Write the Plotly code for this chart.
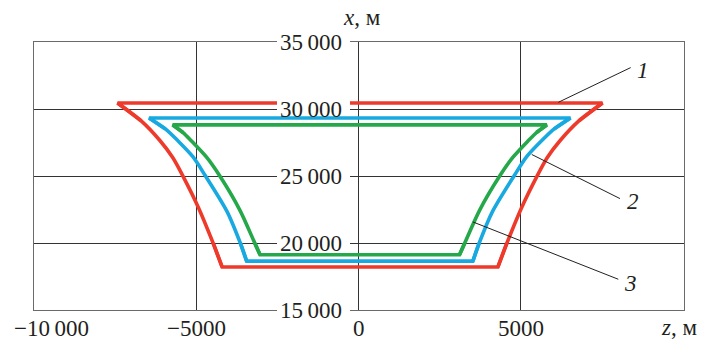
import plotly.graph_objects as go

# ---- data ----
z_tick_vals = [-10000, -5000, 0, 5000]
z_tick_text = ["\u221210\u2009000", "\u22125000", "0", "5000"]
x_tick_vals = [15000, 20000, 25000, 30000, 35000]
x_tick_text = ["15\u2009000", "20\u2009000", "25\u2009000", "30\u2009000", "35\u2009000"]

# Each curve: right flank (top corner -> bottom corner), left flank (top corner -> bottom corner)
# curve 1 (red)
red_x = [30445, 29110, 27648, 26365, 25052, 22656, 19985, 18205]
red_right_z = [7517, 6790, 6214, 5813, 5514, 5028, 4572, 4294]
red_left_z = [-7425, -6697, -6121, -5721, -5422, -4935, -4479, -4202]
# curve 2 (blue)
blue_x = [29332, 28516, 27648, 26439, 25052, 22359, 19985, 18650]
blue_right_z = [6531, 6029, 5650, 5182, 4806, 4131, 3718, 3524]
blue_left_z = [-6454, -5952, -5573, -5105, -4729, -4054, -3641, -3447]
# curve 3 (green)
green_x = [28813, 28242, 27648, 26387, 25052, 22456, 19985, 19118]
green_right_z = [5804, 5484, 5237, 4754, 4365, 3734, 3272, 3112]
green_left_z = [-5727, -5407, -5160, -4677, -4288, -3657, -3195, -3034]

curve_names = ["1", "2", "3"]
leader_start_z = [6158, 5339, 3522]
leader_start_x = [30500, 26605, 21575]
leader_end_z = [8387, 8057, 8005]
leader_end_x = [33091, 23314, 17295]
label_z = [8775, 8448, 8387]
label_x = [32846, 23061, 16997]

# ---- styling ----
FONT = "Liberation Serif"
TXT = "#231F20"
Z_RANGE = [-10000, 10030]
X_RANGE = [15000, 35000]
W, H = 702, 343
ML, MR, MT, MB = 34, 18, 42, 33
PW, PH = W - ML - MR, H - MT - MB

fig = go.Figure()
for xs, rz, lz, col in [
    (red_x, red_right_z, red_left_z, "#EE3A2B"),
    (blue_x, blue_right_z, blue_left_z, "#18A9E1"),
    (green_x, green_right_z, green_left_z, "#25A84A"),
]:
    # straight top and bottom edges (with a short stub along each flank so corners join sharply)
    fig.add_trace(go.Scatter(
        x=[rz[1], rz[0], lz[0], lz[1]], y=[xs[1], xs[0], xs[0], xs[1]],
        mode="lines", line=dict(color=col, width=3.6),
        hoverinfo="skip", showlegend=False))
    fig.add_trace(go.Scatter(
        x=[rz[-2], rz[-1], lz[-1], lz[-2]], y=[xs[-2], xs[-1], xs[-1], xs[-2]],
        mode="lines", line=dict(color=col, width=3.6),
        hoverinfo="skip", showlegend=False))
    # curved flanks
    for fz in (rz, lz):
        fig.add_trace(go.Scatter(
            x=fz, y=xs, mode="lines",
            line=dict(color=col, width=3.6, shape="spline", smoothing=0.8),
            hoverinfo="skip", showlegend=False))

for i in range(3):
    fig.add_trace(go.Scatter(x=[leader_start_z[i], leader_end_z[i]],
                             y=[leader_start_x[i], leader_end_x[i]],
                             mode="lines", line=dict(color=TXT, width=1),
                             hoverinfo="skip", showlegend=False))
    fig.add_annotation(x=label_z[i], y=label_x[i], text="<i>" + curve_names[i] + "</i>",
                       showarrow=False, xanchor="center", yanchor="middle",
                       font=dict(family=FONT, size=23, color=TXT))


def ydom(v):
    return (v - X_RANGE[0]) / (X_RANGE[1] - X_RANGE[0])


# white knock-out boxes behind y tick labels
for v, t in zip(x_tick_vals, x_tick_text):
    yd = ydom(v)
    fig.add_shape(type="rect", xref="x domain", yref="y domain",
                  x0=(277 - ML) / PW, x1=(350 - ML) / PW,
                  y0=yd - 6 / PH, y1=yd + 11 / PH,
                  fillcolor="white", line=dict(width=0), layer="above")
    fig.add_annotation(x=0, y=v, xref="x", yref="y", text=t, showarrow=False,
                       xanchor="right", yanchor="middle", xshift=-15,
                       font=dict(family=FONT, size=23, color=TXT))

for v, t in zip(z_tick_vals, z_tick_text):
    if v == Z_RANGE[0]:
        fig.add_annotation(x=v, y=-32.5 / PH, xref="x", yref="y domain", text=t,
                           showarrow=False, xanchor="left", yanchor="bottom",
                           xshift=-22, font=dict(family=FONT, size=23, color=TXT))
    else:
        fig.add_annotation(x=v, y=-32.5 / PH, xref="x", yref="y domain", text=t,
                           showarrow=False, xanchor="center", yanchor="bottom",
                           font=dict(family=FONT, size=23, color=TXT))

fig.add_annotation(x=0, y=1 + 24 / PH, xref="x", yref="y domain",
                   text="<i>x</i>, м", showarrow=False, xanchor="center",
                   yanchor="middle", xshift=3,
                   font=dict(family=FONT, size=23, color=TXT))
fig.add_annotation(x=1, y=-32 / PH, xref="x domain", yref="y domain",
                   text="<i>z</i>, м", showarrow=False, xanchor="right",
                   yanchor="bottom", xshift=15,
                   font=dict(family=FONT, size=23, color=TXT))

fig.update_xaxes(range=Z_RANGE, tickvals=z_tick_vals, showticklabels=False,
                 showgrid=True, gridcolor="#333333", gridwidth=1, zeroline=False,
                 showline=True, mirror=True, linecolor="#6a6a6a", linewidth=1.3,
                 ticks="", fixedrange=True)
fig.update_yaxes(range=X_RANGE, tickvals=x_tick_vals, showticklabels=False,
                 showgrid=True, gridcolor="#333333", gridwidth=1, zeroline=False,
                 showline=True, mirror=True, linecolor="#6a6a6a", linewidth=1.3,
                 ticks="", fixedrange=True)
fig.update_layout(width=W, height=H, margin=dict(l=ML, r=MR, t=MT, b=MB),
                  plot_bgcolor="white", paper_bgcolor="white",
                  font=dict(family=FONT, color=TXT))
fig.write_html("out.html", config={"displayModeBar": False})
